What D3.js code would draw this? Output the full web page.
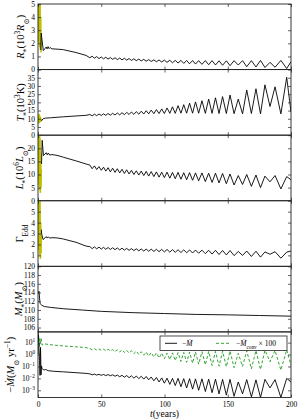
<!DOCTYPE html>
<html>
<head>
<meta charset="utf-8">
<script src="https://cdn.jsdelivr.net/npm/d3@7"></script>
<style>
body { margin: 0; background: #fff; }
text { font-family: "Liberation Serif", "DejaVu Serif", serif; fill: #000; }
</style>
</head>
<body>
<div id="chart"></div>
<script>
// times of the pulsation extremes (peak, trough, peak, ...) after t ~ 40 yr
const tOsc = [41,42.8,44.6,46.4,48.2,50.0,51.8,53.6,55.4,57.2,
  59.0,60.9,62.7,64.6,66.4,68.3,70.1,72.0,73.9,75.8,
  77.7,79.7,81.6,83.6,85.5,87.5,89.5,91.6,93.6,95.7,
  97.8,99.9,102.0,104.2,106.3,108.5,110.7,113.0,115.2,117.5,
  119.8,122.2,124.5,127.0,129.6,132.3,134.9,137.6,140.3,143.1,
  145.9,148.9,151.8,155.0,158.3,161.7,165.0,168.7,172.3,175.9,
  179.4,183.4,187.4,192.0,196.6,200];

// radius, 10^3 Rsun
const rPre = [[2.2,1.5],[2.5,2.78],[4.2,1.45],[5.5,1.6],[6.5,1.72],[7.2,1.58],[8.0,1.75],[8.8,1.6],[9.6,1.68],[11,1.58],[15,1.56],[20,1.52],[30,1.3],[38,1.08]];
const rOsc = [0.90,1.02,0.87,0.99,0.84,0.96,0.82,0.94,0.80,0.92,
  0.78,0.90,0.76,0.88,0.74,0.86,0.72,0.84,0.70,0.82,
  0.68,0.80,0.66,0.78,0.64,0.76,0.62,0.74,0.60,0.73,
  0.58,0.72,0.55,0.71,0.52,0.70,0.50,0.70,0.47,0.69,
  0.44,0.69,0.42,0.68,0.40,0.68,0.37,0.68,0.35,0.67,
  0.33,0.67,0.30,0.68,0.35,0.68,0.22,0.68,0.20,0.70,
  0.16,0.55,0.18,0.70,0.08,0.60];
const rEarly = [[0,5.6],[0.25,2.2],[0.5,5.6],[0.8,2.0],[1.05,5.6],[1.35,1.7],[1.6,5.6],[1.9,1.5],[2.15,4.0],[2.4,1.3],[2.6,2.2]];

// temperature, 10^3 K
const tPre = [[2.5,8.5],[4,10.0],[6,10.4],[10,10.6],[20,11.2],[30,11.7],[38,12.1]];
const tempOsc = [12.6,11.8,12.8,11.9,12.9,12.0,13.0,12.1,13.2,12.2,
  13.3,12.3,13.5,12.4,13.7,12.5,13.9,12.6,14.1,12.7,
  14.3,12.8,14.6,12.9,14.9,13.0,15.3,13.1,15.6,13.2,
  16.0,13.2,16.6,13.3,17.3,13.3,18.0,13.4,18.6,13.4,
  19.5,13.4,20.3,13.4,21.0,13.3,22.0,13.3,22.8,13.2,
  23.5,13.2,24.5,13.1,22.0,13.0,27.5,13.2,28.3,13.0,
  30.7,17.5,29.5,13.0,35.3,14.0];
const tEarly = [[0,9],[0.25,12.5],[0.5,7],[0.8,13],[1.05,7.5],[1.35,12],[1.6,8],[1.9,11],[2.15,8.5],[2.4,10],[2.6,9]];

// luminosity, 10^6 Lsun
const lPre = [[2.8,14],[3.3,23],[4.3,17.2],[5.5,17.8],[6.5,18.3],[7.3,17.5],[8.2,18.2],[9.2,17.4],[11,17.6],[15,17.3],[20,16.6],[30,15.2],[38,14.0]];
const lOsc = [13.6,12.2,13.3,11.9,13.0,11.6,12.8,11.3,12.6,11.0,
  12.4,10.8,12.2,10.6,12.0,10.4,11.8,10.2,11.6,10.0,
  11.4,9.8,11.3,9.6,11.2,9.4,11.1,9.2,11.0,9.0,
  10.9,8.8,10.9,8.6,10.8,8.4,10.8,8.2,10.7,8.0,
  10.7,7.8,10.6,7.6,10.6,7.3,10.5,7.0,10.5,6.8,
  10.4,6.5,10.2,6.0,9.6,6.2,10.0,5.5,9.8,5.0,
  9.4,7.2,9.6,4.5,9.2,8.0];
const lEarly = [[0,26],[0.25,8],[0.5,26],[0.8,6],[1.05,26],[1.35,4],[1.6,24],[1.9,3],[2.15,18],[2.4,5],[2.6,12]];

// Eddington factor
const gPre = [[2.6,3.35],[3.0,2.9],[4.0,2.45],[5.5,2.6],[6.5,2.72],[7.3,2.58],[8.2,2.7],[9.2,2.58],[11,2.62],[15,2.6],[20,2.5],[30,2.2],[38,1.85]];
const gOsc = [1.80,1.62,1.78,1.60,1.76,1.58,1.74,1.56,1.72,1.54,
  1.70,1.52,1.68,1.50,1.66,1.48,1.64,1.46,1.62,1.44,
  1.60,1.42,1.59,1.40,1.58,1.38,1.57,1.36,1.56,1.34,
  1.55,1.32,1.54,1.30,1.53,1.28,1.52,1.26,1.51,1.24,
  1.50,1.22,1.49,1.20,1.48,1.16,1.47,1.12,1.46,1.08,
  1.45,1.04,1.44,0.98,1.36,1.00,1.40,0.90,1.38,0.84,
  1.32,1.10,1.34,0.74,1.30,1.40];
const gEarly = [[0,6.5],[0.25,2.0],[0.5,6.5],[0.8,1.5],[1.05,6.5],[1.35,1.0],[1.6,6.0],[1.9,0.7],[2.15,4.0],[2.4,1.2],[2.6,2.8]];

// mass, Msun
const mass = [[0,113.7],[0.8,114.3],[1.6,111.5],[3,111.1],[5,110.8],[10,110.6],[20,110.3],[35,110.0],[50,109.7],[75,109.4],[100,109.2],[125,109.0],[150,108.9],[175,108.75],[200,108.6]];

// mass-loss rates, log10(Msun/yr)
const mdPre = [[0,1.2],[0.4,1.65],[0.8,0.5],[1.2,-0.5],[1.6,-1.75],[2.0,0.6],[2.4,-1.7],[2.7,-0.95],[3.2,-1.15],[4.5,-1.3],[6,-1.25],[8,-1.35],[12,-1.4],[20,-1.45],[30,-1.52],[38,-1.58]];
const mdOsc = [-1.62,-1.70,-1.64,-1.72,-1.66,-1.74,-1.67,-1.76,-1.68,-1.78,
  -1.70,-1.82,-1.72,-1.86,-1.74,-1.90,-1.76,-1.94,-1.78,-1.98,
  -1.80,-2.02,-1.82,-2.06,-1.84,-2.12,-1.88,-2.20,-1.92,-2.30,
  -1.96,-2.40,-1.98,-2.50,-2.00,-2.60,-2.00,-2.70,-2.02,-2.80,
  -2.02,-2.90,-2.04,-3.00,-2.04,-3.10,-2.06,-3.20,-2.06,-3.30,
  -2.08,-3.40,-2.08,-3.50,-2.30,-3.30,-2.10,-3.55,-2.12,-3.60,
  -2.08,-2.80,-2.10,-3.60,-2.00,-2.30];
const convPre = [[0,1.7],[0.3,0.0],[0.6,1.5],[1.0,0.6],[1.6,1.3],[2.0,1.0],[2.5,1.35],[3.2,0.8],[5,0.9],[8,0.85],[12,0.8],[20,0.72],[30,0.65],[38,0.58]];
const convOsc = [0.50,0.40,0.49,0.38,0.47,0.36,0.46,0.33,0.44,0.30,
  0.42,0.26,0.40,0.22,0.38,0.18,0.35,0.13,0.32,0.08,
  0.28,0.02,0.24,-0.05,0.20,-0.12,0.16,-0.20,0.14,-0.28,
  0.12,-0.35,0.12,-0.42,0.14,-0.50,0.16,-0.58,0.18,-0.65,
  0.20,-0.72,0.22,-0.80,0.24,-0.86,0.26,-0.92,0.26,-0.98,
  0.28,-1.02,0.30,-1.10,0.10,-1.00,0.32,-1.20,0.34,-1.25,
  0.36,-0.60,0.34,-1.30,0.40,-0.90];

const xTicks = [0, 50, 100, 150, 200];
const rTicks = [0, 1, 2, 3, 4, 5];
const tTicks = [0, 5, 10, 15, 20, 25, 30, 35];
const lTicks = [0, 5, 10, 15, 20];
const gTicks = [1, 2, 3, 4, 5];
const mTicks = [106, 108, 110, 112, 114, 116, 118, 120];
const mdTicks = [-3, -2, -1, 0, 1];

const W = 299, H = 420;
const left = 38, right = 291, topY = 4, panelH = 65.58;
const yellow = "#bfbf00", green = "#1f9a1f";

function osc(vals) { return tOsc.map((t, i) => [t, vals[i]]); }

// [text, flags]: i italic, b subscript, p superscript
const panels = [
  { domain: [0, 5], ticks: rTicks, lx: 23,
    label: [["R","i"],["*","b"],["(10",""],["3","p"],["R","i"],["⊙","b"],[")",""]],
    lines: [{ d: rEarly, c: yellow, w: 1.6 }, { d: rPre.concat(osc(rOsc)), c: "#000", w: 0.9 }] },
  { domain: [0, 40], ticks: tTicks, lx: 23,
    label: [["T","i"],["*","b"],["(10",""],["3","p"],["K)",""]],
    lines: [{ d: tEarly, c: yellow, w: 1.6 }, { d: tPre.concat(osc(tempOsc)), c: "#000", w: 0.9 }] },
  { domain: [0, 25], ticks: lTicks, lx: 22,
    label: [["L","i"],["*","b"],["(10",""],["6","p"],["L","i"],["⊙","b"],[")",""]],
    lines: [{ d: lEarly, c: yellow, w: 1.6 }, { d: lPre.concat(osc(lOsc)), c: "#000", w: 0.9 }] },
  { domain: [0, 6], ticks: gTicks, lx: 22,
    label: [["Γ",""],["Edd","b"]],
    lines: [{ d: gEarly, c: yellow, w: 1.6 }, { d: gPre.concat(osc(gOsc)), c: "#000", w: 0.9 }] },
  { domain: [105, 120], ticks: mTicks, lx: 21,
    label: [["M","i"],["*","b"],["(",""],["M","i"],["⊙","b"],[")",""]],
    lines: [{ d: mass, c: "#000", w: 0.9 }] },
  { domain: [Math.pow(10, -3.6), Math.pow(10, 1.9)], ticks: mdTicks, log: true, lx: 13,
    label: [["−",""],["Ṁ","i"],["(",""],["M","i"],["⊙","b"],[" yr",""],["−1","p"],[")",""]],
    lines: [{ d: convPre.concat(osc(convOsc)), c: green, w: 0.9, dash: "3,2" },
            { d: mdPre.concat(osc(mdOsc)), c: "#000", w: 0.9 }] }
];

function rich(sel, parts) {
  parts.forEach(p => {
    const ts = sel.append("tspan").text(p[0]);
    if (p[1].includes("i")) ts.attr("font-style", "italic");
    if (p[1].includes("b")) ts.attr("baseline-shift", "sub").attr("font-size", "70%");
    if (p[1].includes("p")) ts.attr("baseline-shift", "super").attr("font-size", "70%");
  });
}

const svg = d3.select("#chart").append("svg").attr("width", W).attr("height", H);
const x = d3.scaleLinear().domain([0, 200]).range([left, right]);

panels.forEach((p, i) => {
  const y0 = topY + i * panelH, y1 = y0 + panelH;
  const y = (p.log ? d3.scaleLog() : d3.scaleLinear()).domain(p.domain).range([y1, y0]);
  const yv = v => p.log ? y(Math.pow(10, v)) : y(v);

  svg.append("clipPath").attr("id", "clip" + i)
    .append("rect").attr("x", left).attr("y", y0).attr("width", right - left).attr("height", panelH);

  const line = d3.line().x(d => x(d[0])).y(d => yv(d[1]));
  p.lines.forEach(s => {
    svg.append("path")
      .attr("clip-path", `url(#clip${i})`)
      .attr("d", line(s.d))
      .attr("fill", "none")
      .attr("stroke", s.c)
      .attr("stroke-width", s.w)
      .attr("stroke-dasharray", s.dash || null);
  });

  // ticks, inward on all four sides
  const tv = p.log ? p.ticks.map(e => Math.pow(10, e)) : p.ticks;
  const gl = svg.append("g").attr("transform", `translate(${left},0)`)
    .call(d3.axisLeft(y).tickValues(tv).tickSizeInner(-3).tickSizeOuter(0).tickPadding(3)
      .tickFormat(p.log ? "" : d3.format("d")));
  const gr = svg.append("g").attr("transform", `translate(${right},0)`)
    .call(d3.axisRight(y).tickValues(tv).tickSizeInner(-3).tickSizeOuter(0).tickFormat(""));
  const gt = svg.append("g").attr("transform", `translate(0,${y0})`)
    .call(d3.axisTop(x).tickValues(xTicks).tickSizeInner(-3).tickSizeOuter(0).tickFormat(""));
  const gb = svg.append("g").attr("transform", `translate(0,${y1})`)
    .call(d3.axisBottom(x).tickValues(xTicks).tickSizeInner(-3).tickSizeOuter(0).tickPadding(4)
      .tickFormat(i === panels.length - 1 ? d3.format("d") : ""));
  [gl, gr, gt, gb].forEach(g => {
    g.select(".domain").remove();
    g.selectAll("line").attr("stroke", "#222").attr("stroke-width", 0.7);
    g.selectAll("text").attr("font-family", "Liberation Serif, DejaVu Serif, serif").attr("font-size", 7.5).attr("fill", "#000");
  });

  if (p.log) {
    p.ticks.forEach(e => {
      const t = svg.append("text").attr("x", left - 3).attr("y", y(Math.pow(10, e)) + 2.5)
        .attr("text-anchor", "end").attr("font-size", 7.5);
      rich(t, [["10", ""], [e < 0 ? "−" + (-e) : String(e), "p"]]);
    });
  }

  svg.append("rect").attr("x", left).attr("y", y0).attr("width", right - left).attr("height", panelH)
    .attr("fill", "none").attr("stroke", "#222").attr("stroke-width", 0.9);

  const lab = svg.append("text")
    .attr("transform", `translate(${p.lx + 1},${(y0 + y1) / 2}) rotate(-90)`)
    .attr("text-anchor", "middle").attr("font-size", 10.5);
  rich(lab, p.label);
});

// x label
const xl = svg.append("text").attr("x", (left + right) / 2).attr("y", 417)
  .attr("text-anchor", "middle").attr("font-size", 9.5);
rich(xl, [["t", "i"], ["(years)", ""]]);

// legend
const lg = svg.append("g");
lg.append("rect").attr("x", 160).attr("y", 336).attr("width", 127).attr("height", 14.5)
  .attr("fill", "#fff").attr("stroke", "#222").attr("stroke-width", 0.8);
lg.append("line").attr("x1", 165).attr("x2", 177).attr("y1", 343.3).attr("y2", 343.3)
  .attr("stroke", "#000").attr("stroke-width", 0.9);
rich(lg.append("text").attr("x", 182).attr("y", 346).attr("font-size", 7.5),
  [["−", ""], ["Ṁ", "i"]]);
lg.append("line").attr("x1", 216).attr("x2", 229).attr("y1", 343.3).attr("y2", 343.3)
  .attr("stroke", green).attr("stroke-width", 0.9).attr("stroke-dasharray", "3,2");
rich(lg.append("text").attr("x", 236).attr("y", 346).attr("font-size", 7.5),
  [["−", ""], ["Ṁ", "i"], ["conv", "b"], [" × 100", ""]]);
</script>
</body>
</html>
